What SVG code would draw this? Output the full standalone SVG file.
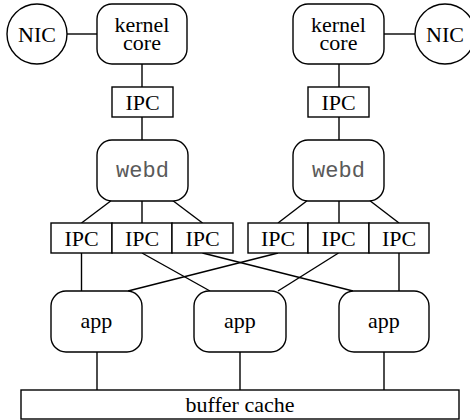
<svg xmlns="http://www.w3.org/2000/svg" width="470" height="420" viewBox="0 0 470 420">
<style>
.s{fill:#fff;stroke:#000;stroke-width:1.4}
.c line{stroke:#000;stroke-width:1.4}
text{font-family:"Liberation Serif","Times New Roman",serif;font-size:22px;text-anchor:middle;fill:#000}
text.m{font-family:"Liberation Mono","Courier New",monospace;fill:#5a5a5a}
</style>
<rect width="470" height="420" fill="#fff"/>
<g id="connectors" class="c">
<line x1="67" y1="34" x2="97" y2="34"/>
<line x1="384" y1="34" x2="415" y2="34"/>
<line x1="142" y1="64" x2="142" y2="87"/>
<line x1="142" y1="117" x2="142" y2="140"/>
<line x1="339" y1="64" x2="339" y2="87"/>
<line x1="339" y1="117" x2="339" y2="140"/>
<line x1="112" y1="200" x2="81.5" y2="223"/>
<line x1="142" y1="200" x2="142" y2="223"/>
<line x1="172" y1="200" x2="202.5" y2="223"/>
<line x1="308" y1="200" x2="278" y2="223"/>
<line x1="339" y1="200" x2="339" y2="223"/>
<line x1="369" y1="200" x2="399" y2="223"/>
<line x1="81.5" y1="253" x2="81.5" y2="291"/>
<line x1="142" y1="253" x2="210" y2="291"/>
<line x1="202.5" y1="253" x2="353" y2="291"/>
<line x1="278" y1="253" x2="128" y2="291"/>
<line x1="338.5" y1="253" x2="278" y2="291"/>
<line x1="399" y1="253" x2="399" y2="291"/>
<line x1="97" y1="352" x2="97" y2="390"/>
<line x1="240" y1="352" x2="240" y2="390"/>
<line x1="384" y1="352" x2="384" y2="390"/>
</g>
<g id="nic-left"><circle class="s" cx="37" cy="34" r="30"/><text x="37" y="42">NIC</text></g>
<g id="kernel-left"><rect class="s" x="97" y="4" width="90" height="60" rx="15"/><text x="142" y="32">kernel</text><text x="142" y="50">core</text></g>
<g id="ipc-left"><rect class="s" x="112" y="87" width="61" height="30"/><text x="142.5" y="110">IPC</text></g>
<g id="webd-left"><rect class="s" x="97" y="140" width="91" height="61" rx="15"/><text class="m" x="142.5" y="177">webd</text></g>
<g id="kernel-right"><rect class="s" x="293" y="4" width="91" height="60" rx="15"/><text x="338.5" y="32">kernel</text><text x="338.5" y="50">core</text></g>
<g id="nic-right"><circle class="s" cx="445" cy="34" r="30"/><text x="445" y="42">NIC</text></g>
<g id="ipc-right"><rect class="s" x="308" y="87" width="61" height="30"/><text x="338.5" y="110">IPC</text></g>
<g id="webd-right"><rect class="s" x="293" y="140" width="91" height="61" rx="15"/><text class="m" x="338.5" y="177">webd</text></g>
<g id="ipc1"><rect class="s" x="51" y="223" width="61" height="30"/><text x="81.5" y="246">IPC</text></g>
<g id="ipc2"><rect class="s" x="112" y="223" width="60" height="30"/><text x="142" y="246">IPC</text></g>
<g id="ipc3"><rect class="s" x="172" y="223" width="61" height="30"/><text x="202.5" y="246">IPC</text></g>
<g id="ipc4"><rect class="s" x="248" y="223" width="60" height="30"/><text x="278" y="246">IPC</text></g>
<g id="ipc5"><rect class="s" x="308" y="223" width="61" height="30"/><text x="338.5" y="246">IPC</text></g>
<g id="ipc6"><rect class="s" x="369" y="223" width="60" height="30"/><text x="399" y="246">IPC</text></g>
<g id="app1"><rect class="s" x="51" y="291" width="91" height="61" rx="15"/><text x="96.5" y="328">app</text></g>
<g id="app2"><rect class="s" x="194" y="291" width="92" height="61" rx="15"/><text x="240" y="328">app</text></g>
<g id="app3"><rect class="s" x="339" y="291" width="90" height="61" rx="15"/><text x="384" y="328">app</text></g>
<g id="buffer-cache"><rect class="s" x="21" y="390" width="438" height="29"/><text x="240" y="411.5">buffer cache</text></g>
</svg>
